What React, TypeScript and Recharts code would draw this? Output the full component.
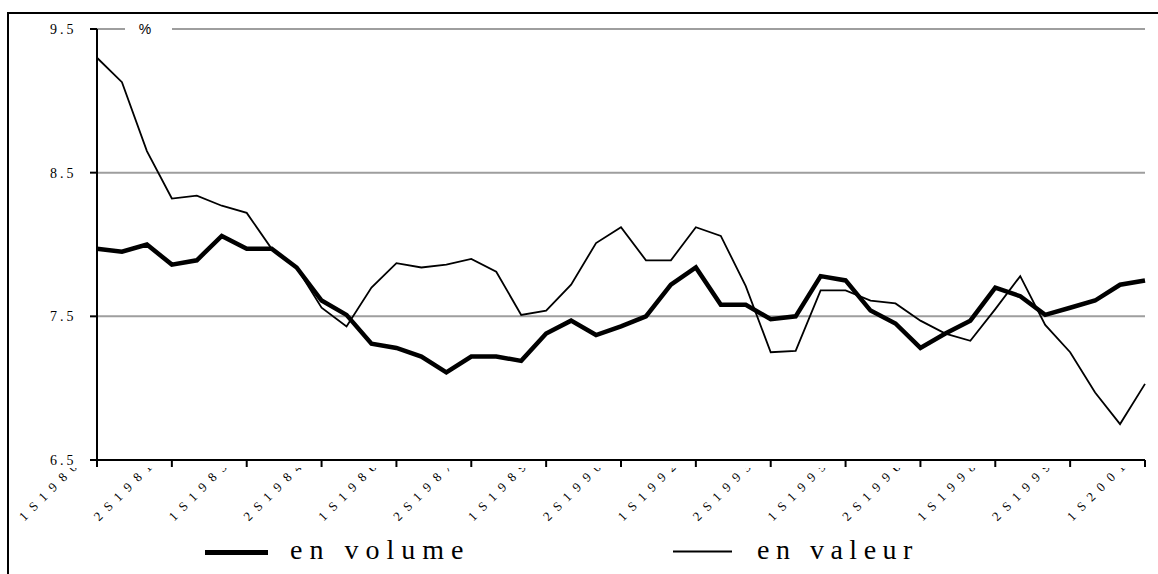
import React from 'react';
import { LineChart, Line, XAxis, YAxis, CartesianGrid } from 'recharts';

const periods = [
  '1S1980', '2S1980', '1S1981', '2S1981', '1S1982', '2S1982', '1S1983', '2S1983',
  '1S1984', '2S1984', '1S1985', '2S1985', '1S1986', '2S1986', '1S1987', '2S1987',
  '1S1988', '2S1988', '1S1989', '2S1989', '1S1990', '2S1990', '1S1991', '2S1991',
  '1S1992', '2S1992', '1S1993', '2S1993', '1S1994', '2S1994', '1S1995', '2S1995',
  '1S1996', '2S1996', '1S1997', '2S1997', '1S1998', '2S1998', '1S1999', '2S1999',
  '1S2000', '2S2000', '1S2001',
];

const volume = [
  7.97, 7.95, 8.0, 7.86, 7.89, 8.06, 7.97, 7.97, 7.84, 7.61, 7.51, 7.31, 7.28, 7.22,
  7.11, 7.22, 7.22, 7.19, 7.38, 7.47, 7.37, 7.43, 7.5, 7.72, 7.84, 7.58, 7.58, 7.48,
  7.5, 7.78, 7.75, 7.54, 7.45, 7.28, 7.38, 7.47, 7.7, 7.64, 7.51, 7.56, 7.61, 7.72, 7.75,
];

const valeur = [
  9.3, 9.13, 8.65, 8.32, 8.34, 8.27, 8.22, 7.97, 7.84, 7.56, 7.43, 7.7, 7.87, 7.84,
  7.86, 7.9, 7.81, 7.51, 7.54, 7.72, 8.01, 8.12, 7.89, 7.89, 8.12, 8.06, 7.71, 7.25,
  7.26, 7.68, 7.68, 7.61, 7.59, 7.47, 7.38, 7.33, 7.55, 7.78, 7.44, 7.25, 6.97, 6.75, 7.03,
];

const yTicks = [6.5, 7.5, 8.5, 9.5];
const legendNames = ['en volume', 'en valeur'];
const unitLabel = '%';

const data = periods.map((p, i) => ({ period: p, volume: volume[i], valeur: valeur[i] }));

const SERIF = '"Liberation Serif", "Times New Roman", serif';
const SANS = '"Liberation Sans", Arial, sans-serif';

const XTick = (props: any) => {
  const { x, y, payload, index } = props;
  const axisY = y - 7;
  const chars = String(payload.value).split('');
  const xs = chars.map((_, k) => (x - 72.8 + 9.8 * k).toFixed(2)).join(' ');
  const ys = chars.map((_, k) => (axisY + 61.8 - 9.8 * k).toFixed(2)).join(' ');
  const rot = chars.map(() => '-45').join(' ');
  const id = `xclip-${index}`;
  return (
    <g>
      <defs>
        <clipPath id={id}>
          <rect x={x - 200} y={axisY + 8} width={400} height={200} />
        </clipPath>
      </defs>
      <g clipPath={`url(#${id})`}>
        <text
          x={xs}
          y={ys}
          rotate={rot}
          fontFamily={SERIF}
          fontSize={13}
          fill="#000"
        >
          {payload.value}
        </text>
      </g>
    </g>
  );
};

const YTick = (props: any) => {
  const { x, y, payload } = props;
  return (
    <text
      x={x - 13.5}
      y={y}
      dy={5}
      textAnchor="end"
      fontFamily={SERIF}
      fontSize={14}
      letterSpacing={3}
      fill="#000"
    >
      {payload.value.toFixed(1)}
    </text>
  );
};

export default function App() {
  return (
    <div
      style={{
        position: 'absolute',
        left: 0,
        top: 0,
        width: 1158,
        height: 574,
        overflow: 'hidden',
        background: '#fff',
      }}
    >
      <div
        style={{
          position: 'absolute',
          left: 7,
          top: 12,
          width: 1200,
          height: 700,
          border: '2px solid #000',
        }}
      />
      <div style={{ position: 'absolute', left: 0, top: 0 }}>
        <LineChart
          width={1158}
          height={574}
          data={data}
          margin={{ top: 29, right: 13, left: 0, bottom: 0 }}
        >
          <CartesianGrid vertical={false} stroke="#9e9e9e" strokeWidth={2} />
          <XAxis
            dataKey="period"
            interval={2}
            height={114}
            tickSize={7}
            tickMargin={0}
            axisLine={{ stroke: '#000', strokeWidth: 2 }}
            tickLine={{ stroke: '#000', strokeWidth: 2 }}
            tick={<XTick />}
          />
          <YAxis
            type="number"
            domain={[6.5, 9.5]}
            ticks={yTicks}
            width={97}
            tickSize={7}
            tickMargin={0}
            axisLine={{ stroke: '#000', strokeWidth: 2 }}
            tickLine={{ stroke: '#000', strokeWidth: 2 }}
            tick={<YTick />}
          />
          <Line
            type="linear"
            dataKey="volume"
            stroke="#000"
            strokeWidth={4.5}
            dot={false}
            activeDot={false}
            isAnimationActive={false}
          />
          <Line
            type="linear"
            dataKey="valeur"
            stroke="#000"
            strokeWidth={1.8}
            dot={false}
            activeDot={false}
            isAnimationActive={false}
          />
        </LineChart>
      </div>
      <svg
        width={1158}
        height={574}
        style={{ position: 'absolute', left: 0, top: 0, pointerEvents: 'none' }}
      >
        <rect x={125} y={21} width={47} height={15} fill="#fff" />
        <text x={145} y={33.5} textAnchor="middle" fontFamily={SANS} fontSize={14} fill="#000">
          {unitLabel}
        </text>
        <line x1={205} x2={268} y1={552.5} y2={552.5} stroke="#000" strokeWidth={5} />
        <text x={290} y={559} fontFamily={SERIF} fontSize={28} letterSpacing={7} fill="#000">
          {legendNames[0]}
        </text>
        <line x1={673} x2={732} y1={551.5} y2={551.5} stroke="#000" strokeWidth={2} />
        <text x={757} y={559} fontFamily={SERIF} fontSize={28} letterSpacing={6.5} fill="#000">
          {legendNames[1]}
        </text>
      </svg>
    </div>
  );
}
